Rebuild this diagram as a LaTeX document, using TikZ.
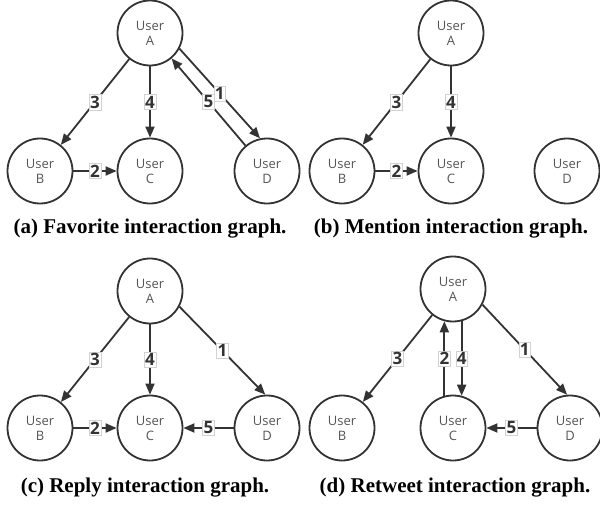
\documentclass[tikz,border=0pt]{standalone}
\usepackage{fontspec}
\setmainfont{Liberation Serif}
\newfontfamily\userfont{Open Sans}
\usetikzlibrary{arrows.meta}
\definecolor{edgecol}{HTML}{333333}
\definecolor{txtcol}{HTML}{555555}
\begin{document}
\begin{tikzpicture}[x=1pt,y=-1pt,
  user/.style={circle, draw=edgecol, line width=1.8pt, minimum size=65pt, inner sep=0pt,
    align=center, font=\userfont\fontsize{13}{15}\selectfont, text=txtcol},
  arr/.style={-{Triangle[length=11pt,width=9pt]}, line width=1.8pt, draw=edgecol},
  lab/.style={fill=white, draw=gray!35, line width=0.4pt, inner xsep=1pt, inner ysep=1.5pt,
    font=\userfont\bfseries\fontsize{17}{17}\selectfont, text=edgecol},
  captext/.style={font=\bfseries\fontsize{21}{23}\selectfont}]
\useasboundingbox (0,0) rectangle (600,508);
% (a)
\node[user] (Aa) at (150,33) {User\\A};
\node[user] (Ba) at (40,171) {User\\B};
\node[user] (Ca) at (150,171) {User\\C};
\node[user] (Da) at (267,171) {User\\D};
\draw[arr] (Aa) -- node[lab]{3} (Ba);
\draw[arr] (Aa) -- node[lab]{4} (Ca);
\draw[arr] (Ba) -- node[lab]{2} (Ca);
\draw[arr] (Aa.-28) -- node[lab]{1} (Da.102);
\draw[arr] (Da) -- node[lab]{5} (Aa);
\node[captext] (capa) at (150,229) {(a) Favorite interaction graph.};
% (b)
\node[user] (Ab) at (451,33) {User\\A};
\node[user] (Bb) at (342,171) {User\\B};
\node[user] (Cb) at (451,171) {User\\C};
\node[user] (Db) at (567,171) {User\\D};
\draw[arr] (Ab) -- node[lab]{3} (Bb);
\draw[arr] (Ab) -- node[lab]{4} (Cb);
\draw[arr] (Bb) -- node[lab]{2} (Cb);
\node[captext] (capb) at (451,229) {(b) Mention interaction graph.};
% (c)
\node[user] (Ac) at (150,291) {User\\A};
\node[user] (Bc) at (40,428) {User\\B};
\node[user] (Cc) at (150,428) {User\\C};
\node[user] (Dc) at (267,428) {User\\D};
\draw[arr] (Ac) -- node[lab]{3} (Bc);
\draw[arr] (Ac) -- node[lab]{4} (Cc);
\draw[arr] (Bc) -- node[lab]{2} (Cc);
\draw[arr] (Dc) -- node[lab]{5} (Cc);
\draw[arr] (Ac.-28) -- node[lab]{1} (Dc.93);
\node[captext] (capc) at (145,488) {(c) Reply interaction graph.};
% (d)
\node[user] (Ad) at (453,289) {User\\A};
\node[user] (Bd) at (342,428) {User\\B};
\node[user] (Cd) at (453,428) {User\\C};
\node[user] (Dd) at (570,428) {User\\D};
\draw[arr] (Ad) -- node[lab]{3} (Bd);
\draw[arr] (Cd.105) -- node[lab]{2} (Ad.-105);
\draw[arr] (Ad.-75) -- node[lab]{4} (Cd.75);
\draw[arr] (Ad.-28) -- node[lab]{1} (Dd.95);
\draw[arr] (Dd) -- node[lab]{5} (Cd);
\node[captext] (capd) at (455,488) {(d) Retweet interaction graph.};
\end{tikzpicture}
\end{document}
